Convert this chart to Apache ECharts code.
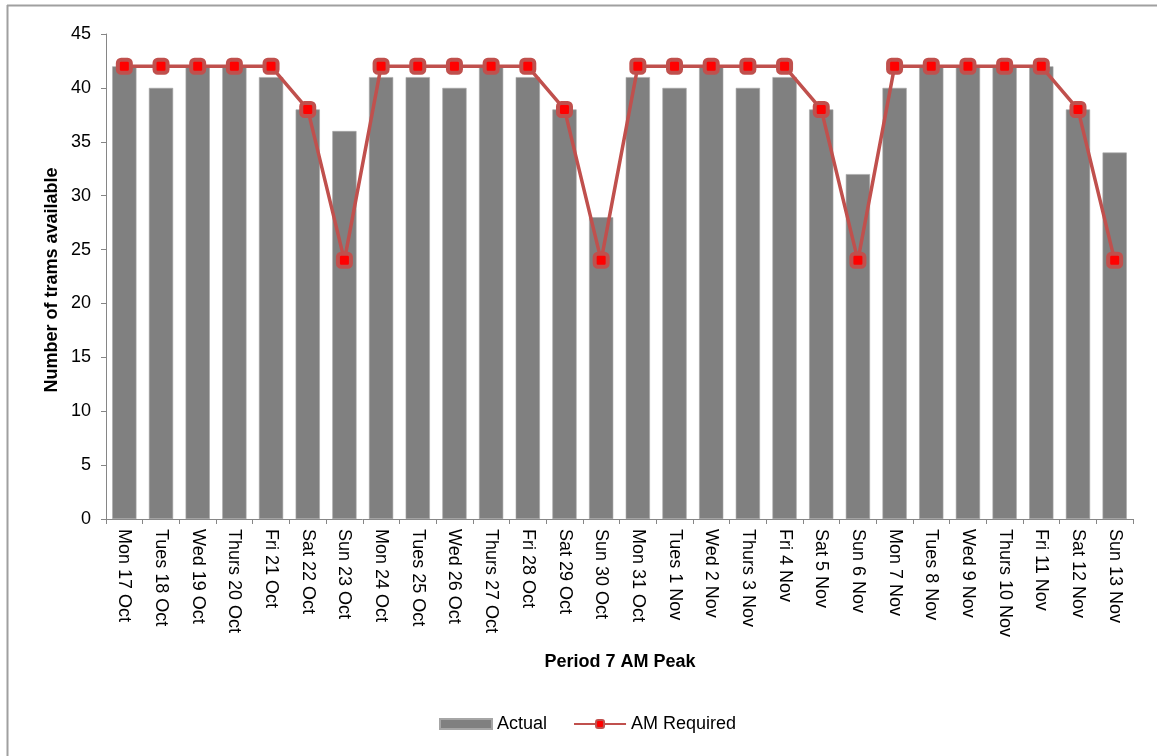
<!DOCTYPE html>
<html>
<head>
<meta charset="utf-8">
<title>Period 7 AM Peak</title>
<script src="https://cdn.jsdelivr.net/npm/echarts@6/dist/echarts.min.js"></script>
<style>
  html, body { margin: 0; padding: 0; background: #fff; }
  #chart { width: 1157px; height: 756px; }
</style>
</head>
<body>
<div id="chart"></div>
<script>
// Days of the period
const categories = [
  'Mon 17 Oct', 'Tues 18 Oct', 'Wed 19 Oct', 'Thurs 20 Oct', 'Fri 21 Oct', 'Sat 22 Oct', 'Sun 23 Oct',
  'Mon 24 Oct', 'Tues 25 Oct', 'Wed 26 Oct', 'Thurs 27 Oct', 'Fri 28 Oct', 'Sat 29 Oct', 'Sun 30 Oct',
  'Mon 31 Oct', 'Tues 1 Nov', 'Wed 2 Nov', 'Thurs 3 Nov', 'Fri 4 Nov', 'Sat 5 Nov', 'Sun 6 Nov',
  'Mon 7 Nov', 'Tues 8 Nov', 'Wed 9 Nov', 'Thurs 10 Nov', 'Fri 11 Nov', 'Sat 12 Nov', 'Sun 13 Nov'
];

// Trams available in the AM peak
const actual = [
  42, 40, 42, 42, 41, 38, 36,
  41, 41, 40, 42, 41, 38, 28,
  41, 40, 42, 40, 41, 38, 32,
  40, 42, 42, 42, 42, 38, 34
];

// Trams required in the AM peak
const amRequired = [
  42, 42, 42, 42, 42, 38, 24,
  42, 42, 42, 42, 42, 38, 24,
  42, 42, 42, 42, 42, 38, 24,
  42, 42, 42, 42, 42, 38, 24
];

const yTicks = { min: 0, max: 45, interval: 5 };

const FONT = '"Liberation Sans", Arial, sans-serif';
const FONT_SIZE = 18;
const AXIS_GREY = '#868686';
const LINE_RED = '#C0504D';

const chart = echarts.init(document.getElementById('chart'), null, { renderer: 'canvas' });

chart.setOption({
  animation: false,
  backgroundColor: '#ffffff',
  textStyle: { fontFamily: FONT, color: '#000' },
  grid: { left: 106, right: 24, top: 34, bottom: 237, containLabel: false },
  legend: {
    left: 439,
    top: 715,
    padding: 0,
    itemGap: 26,
    itemWidth: 52,
    itemHeight: 10,
    textStyle: { fontFamily: FONT, fontSize: FONT_SIZE, color: '#000' },
    data: [
      { name: 'Actual', icon: 'rect' },
      { name: 'AM Required' }
    ]
  },
  xAxis: {
    type: 'category',
    data: categories,
    boundaryGap: true,
    axisLine: { show: true, lineStyle: { color: AXIS_GREY, width: 1 } },
    axisTick: { show: true, length: 5, lineStyle: { color: AXIS_GREY } },
    axisLabel: {
      rotate: -90,
      interval: 0,
      margin: 10,
      fontFamily: FONT,
      fontSize: FONT_SIZE,
      color: '#000'
    },
    splitLine: { show: false }
  },
  yAxis: {
    type: 'value',
    min: yTicks.min,
    max: yTicks.max,
    interval: yTicks.interval,
    axisLine: { show: true, lineStyle: { color: AXIS_GREY, width: 1 } },
    axisTick: { show: true, length: 5, lineStyle: { color: AXIS_GREY } },
    axisLabel: { margin: 15, fontFamily: FONT, fontSize: FONT_SIZE, color: '#000' },
    splitLine: { show: false }
  },
  series: [
    {
      name: 'Actual',
      type: 'bar',
      data: actual,
      barWidth: '66%',
      itemStyle: { color: '#808080', borderColor: '#a6a6a6', borderWidth: 0.6 }
    },
    {
      name: 'AM Required',
      type: 'line',
      data: amRequired,
      symbol: 'roundRect',
      symbolSize: 13,
      lineStyle: { color: LINE_RED, width: 3.5 },
      itemStyle: { color: '#FF0000', borderColor: LINE_RED, borderWidth: 4 },
      z: 3
    }
  ],
  graphic: [
    // frame edges
    { type: 'line', shape: { x1: 7, y1: 5.5, x2: 1157, y2: 5.5 }, style: { stroke: '#a0a0a0', lineWidth: 2 } },
    { type: 'line', shape: { x1: 7.5, y1: 5, x2: 7.5, y2: 756 }, style: { stroke: '#a0a0a0', lineWidth: 2 } },
    {
      type: 'text',
      x: 52,
      y: 280,
      rotation: Math.PI / 2,
      style: {
        text: 'Number of trams available',
        font: 'bold ' + FONT_SIZE + 'px ' + FONT,
        fill: '#000',
        align: 'center',
        verticalAlign: 'middle'
      }
    },
    {
      type: 'text',
      x: 620,
      y: 662,
      style: {
        text: 'Period 7 AM Peak',
        font: 'bold ' + FONT_SIZE + 'px ' + FONT,
        fill: '#000',
        align: 'center',
        verticalAlign: 'middle'
      }
    }
  ]
});
</script>
</body>
</html>
